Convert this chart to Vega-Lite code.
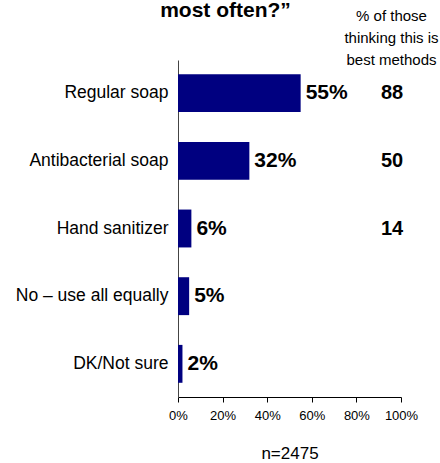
{
  "$schema": "https://vega.github.io/schema/vega-lite/v6.json",
  "width": 223,
  "height": 337,
  "autosize": "none",
  "padding": {"left": 178, "top": 60, "right": 39, "bottom": 66},
  "config": {"view": {"stroke": null}, "font": "Liberation Sans"},
  "data": {
    "values": [
      {"cat": "Regular soap", "pct": 0.55, "best": 88},
      {"cat": "Antibacterial soap", "pct": 0.32, "best": 50},
      {"cat": "Hand sanitizer", "pct": 0.06, "best": 14},
      {"cat": "No – use all equally", "pct": 0.05, "best": null},
      {"cat": "DK/Not sure", "pct": 0.02, "best": null}
    ]
  },
  "resolve": {"axis": {"x": "independent", "y": "independent"}},
  "layer": [
    {
      "mark": {"type": "bar", "color": "#000080"},
      "encoding": {
        "y": {
          "field": "cat", "type": "nominal", "sort": null,
          "scale": {"paddingInner": 0.44, "paddingOuter": 0.21},
          "axis": {"title": null, "ticks": false, "labelPadding": 10, "labelFontSize": 17.5, "labelColor": "#000", "domainColor": "#444", "labelLimit": 250}
        },
        "x": {
          "field": "pct", "type": "quantitative",
          "scale": {"domain": [0, 1], "nice": false},
          "axis": {"orient": "bottom", "values": [0, 0.2, 0.4, 0.6, 0.8, 1], "format": ".0%", "labelOverlap": false, "labelFlush": false, "grid": false, "tickSize": 5, "tickColor": "#000", "domainColor": "#000", "labelFontSize": 13, "labelColor": "#000", "labelPadding": 7, "title": "n=2475", "titleFontSize": 17, "titleFontWeight": "normal", "titleColor": "#000", "titleY": 61, "titleBaseline": "alphabetic"}
        }
      }
    },
    {
      "mark": {"type": "text", "align": "left", "baseline": "middle", "dx": 5, "fontSize": 21, "fontWeight": "bold", "color": "#000"},
      "encoding": {
        "y": {"field": "cat", "type": "nominal", "sort": null, "axis": null},
        "x": {
          "field": "pct", "type": "quantitative",
          "axis": {"orient": "top", "domain": false, "ticks": false, "labels": false, "grid": false, "title": ["% of those", "thinking this is", "best methods"], "titleX": 213, "titleY": -40, "titleAlign": "center", "titleBaseline": "alphabetic", "titleLineHeight": 22, "titleFontSize": 15, "titleFontWeight": "normal", "titleColor": "#000"}
        },
        "text": {"field": "pct", "type": "quantitative", "format": ".0%"}
      }
    },
    {
      "transform": [{"filter": "isValid(datum.best)"}],
      "mark": {"type": "text", "align": "center", "baseline": "middle", "fontSize": 20, "fontWeight": "bold", "color": "#000"},
      "encoding": {
        "y": {
          "field": "cat", "type": "nominal", "sort": null,
          "axis": {"orient": "right", "domain": false, "ticks": false, "labels": false, "title": "most often?”", "titleAngle": 0, "titleX": -176, "titleY": -44, "titleAlign": "center", "titleBaseline": "alphabetic", "titleFontSize": 21, "titleFontWeight": "bold", "titleColor": "#000"}
        },
        "x": {"datum": 0.96, "type": "quantitative", "axis": null},
        "text": {"field": "best", "type": "quantitative"}
      }
    }
  ]
}
